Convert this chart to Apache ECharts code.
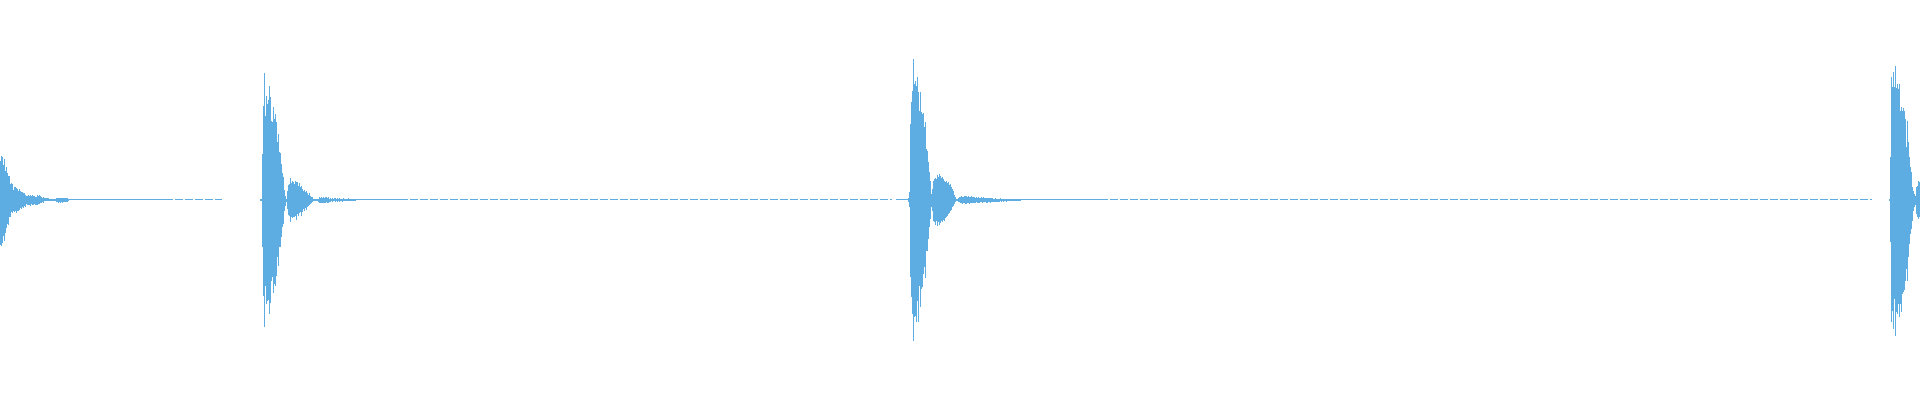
<!DOCTYPE html>
<html>
<head>
<meta charset="utf-8">
<script src="https://cdn.jsdelivr.net/npm/echarts@6/dist/echarts.min.js"></script>
<style>html,body{margin:0;padding:0;background:#fff}#c{width:1920px;height:400px}</style>
</head>
<body>
<div id="c"></div>
<script>
// Time axis in sample columns (0..1920), amplitude in units of 1/200 full scale
const burst1Start = 0;
const burst1Top = [39,44,43,35,41,29,33,27,24,24,16,17,16,10,13,13,12,11,9,11,9,8,8,7,7,5,4,4,5,4,5,4,5,4,4,3,3,5,4,5,4,3,2,3,2,2,2,2,2,1,1,1,1,1,1,1,2,2,2,2,2,2,2,2,2,2,2,2,1];
const burst1Bot = [45,46,43,36,41,33,28,24,25,17,17,12,13,11,12,11,13,11,11,10,8,9,7,8,6,7,4,5,5,5,6,4,5,5,4,5,5,5,4,4,3,3,2,3,1,1,1,1,1,1,1,1,1,1,1,1,2,2,3,2,3,2,3,2,2,2,2,2,1];

const burst2Start = 260;
const burst2Top = [1,1,46,94,127,84,104,96,100,114,103,79,78,93,81,86,78,58,66,48,47,36,27,23,10,4,1,9,15,16,22,17,19,18,16,19,18,18,14,17,13,14,11,9,10,8,9,7,5,7,4,3,3,1,1,1,1,1,1,3,2,3,2,3,2,3,3,2,3,1,2,1,2,1,2,2,1,2,1,2,1,1,1,2,1,1,1,1,2,1,1,1,1,1,1,1];
const burst2Bot = [1,1,47,96,127,86,104,101,100,114,103,81,77,93,84,86,76,57,66,47,47,37,27,24,11,6,2,9,15,16,22,17,18,17,17,16,20,14,16,13,12,16,12,9,11,8,10,7,6,5,4,3,2,1,1,1,1,1,2,3,3,3,3,3,3,3,2,3,3,2,2,1,2,1,1,2,1,2,1,2,1,1,2,1,1,1,1,1,1,1,1,1,1,1,1,1];

const burst3Start = 908;
const burst3Top = [2,8,76,98,109,141,116,119,114,123,108,89,108,88,86,87,73,78,51,49,38,28,19,6,11,19,21,22,21,25,23,26,24,22,23,21,19,18,19,17,18,15,16,13,11,9,5,3,1,1,2,3,3,4,3,3,4,4,4,3,4,3,3,4,3,3,3,2,3,2,3,2,2,3,2,3,2,2,2,2,2,2,2,2,2,1,1,2,1,1,1,1,2,1,1,1,1,1,1,1,1,1,1,1,1,1,1,1,1,1,1,1,1];
const burst3Bot = [2,7,77,97,114,141,117,116,122,101,122,86,107,89,87,74,67,78,51,51,39,27,19,7,11,21,22,25,21,26,22,25,23,21,22,20,21,18,17,16,14,13,11,10,7,6,4,2,1,1,2,2,3,3,4,3,3,4,4,3,3,4,3,3,3,3,3,3,2,3,3,3,2,2,3,2,2,2,3,3,2,2,3,2,2,2,2,2,2,2,2,2,1,2,1,2,1,1,2,1,1,1,1,1,1,1,1,1,1,1,1,1,1];

const burst4Start = 1889;
const burst4Top = [1,43,123,113,128,113,134,112,116,111,116,89,93,89,92,89,81,53,79,58,43,33,28,13,9,6,4,13,14,19,18];
const burst4Bot = [1,42,122,111,129,99,136,112,114,104,117,104,112,94,92,90,81,69,81,57,44,34,29,21,11,7,5,14,17,19,17];

// Quiet stretches: [from, to] in sample columns
const quietSolid = [[68,165],[355,400],[896,908],[1020,1100]];
const quietDashed = [[165,222],[400,892],[1100,1872]];

const COLOR = '#5dade2';

function buildColumns(start, top, bot) {
  return top.map((t, i) => [start + i, t, -bot[i]]);
}
const columns = [].concat(
  buildColumns(burst1Start, burst1Top, burst1Bot),
  buildColumns(burst2Start, burst2Top, burst2Bot),
  buildColumns(burst3Start, burst3Top, burst3Bot),
  buildColumns(burst4Start, burst4Top, burst4Bot)
);
const quiet = quietSolid.map(s => [s[0], s[1], 0]).concat(quietDashed.map(s => [s[0], s[1], 1]));

const chart = echarts.init(document.getElementById('c'), null, {renderer: 'canvas'});
chart.setOption({
  animation: false,
  backgroundColor: '#ffffff',
  grid: {left: 0, right: 0, top: 0, bottom: 0},
  xAxis: {type: 'value', min: 0, max: 1920, show: false},
  yAxis: {type: 'value', min: -200, max: 200, show: false},
  series: [
    {
      type: 'custom',
      data: quiet,
      renderItem: function (params, api) {
        const a = api.coord([api.value(0), 0.5]);
        const b = api.coord([api.value(1), 0.5]);
        return {
          type: 'line',
          shape: {x1: a[0], y1: a[1], x2: b[0], y2: b[1]},
          style: {stroke: COLOR, lineWidth: 1, lineDash: api.value(2) ? [8, 2] : null}
        };
      },
      silent: true
    },
    {
      type: 'custom',
      data: columns,
      renderItem: function (params, api) {
        const p0 = api.coord([api.value(0), api.value(1)]);
        const p1 = api.coord([api.value(0) + 1, api.value(2)]);
        const y0 = Math.round(p0[1]);
        const y1 = Math.max(y0 + 1, Math.round(p1[1]));
        return {
          type: 'rect',
          shape: {x: Math.round(p0[0]), y: y0, width: Math.max(1, Math.round(p1[0] - p0[0])), height: y1 - y0},
          style: {fill: COLOR}
        };
      },
      silent: true
    }
  ]
});
</script>
</body>
</html>
